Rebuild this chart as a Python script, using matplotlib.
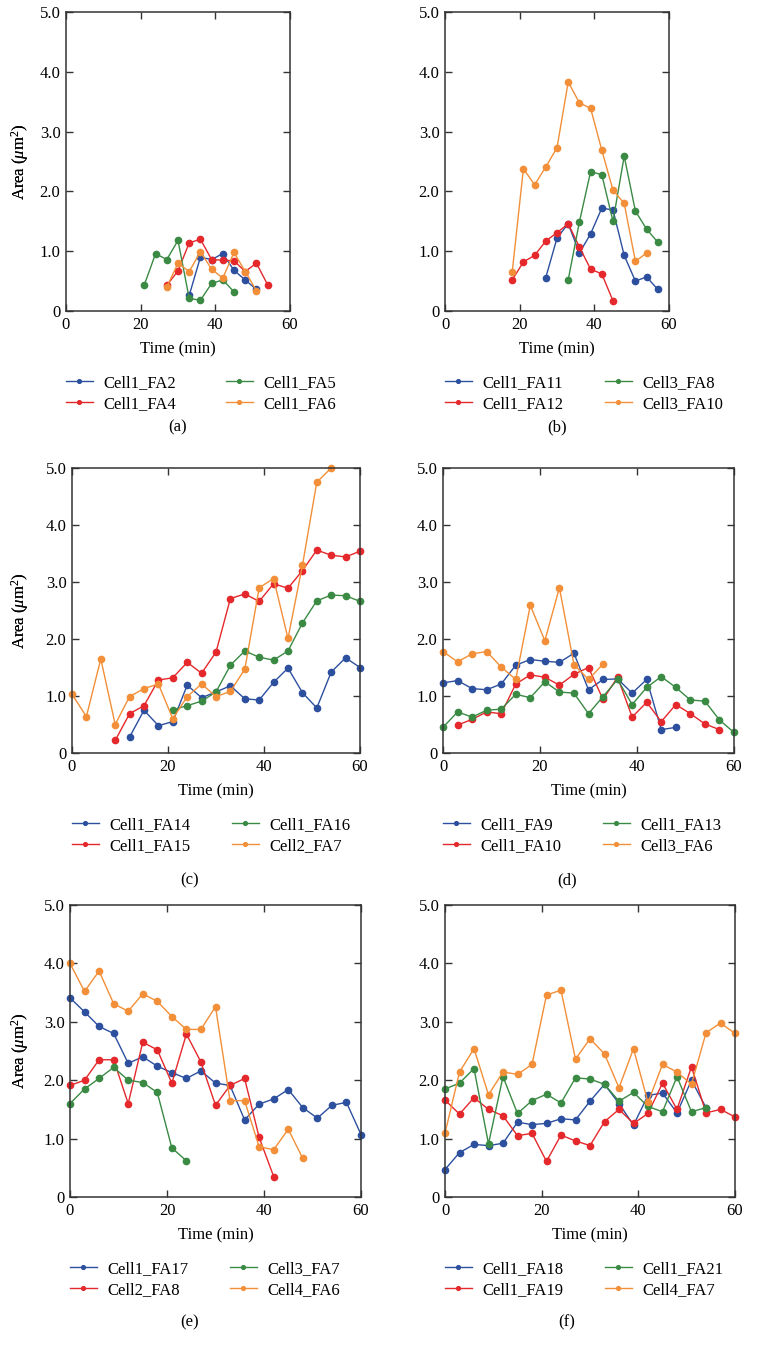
import matplotlib
matplotlib.use("Agg")
import matplotlib.pyplot as plt

plt.rcParams["font.family"] = ["Liberation Serif", "DejaVu Serif"]
plt.rcParams["mathtext.fontset"] = "custom"
plt.rcParams["mathtext.rm"] = "Liberation Serif"
plt.rcParams["mathtext.it"] = "Liberation Serif:italic"

# ======================
# Data (time in min, area in um^2)
# ======================
T = [0, 3, 6, 9, 12, 15, 18, 21, 24, 27, 30, 33, 36, 39, 42, 45, 48, 51, 54, 57, 60]

# (a)
a_names = ["Cell1_FA2", "Cell1_FA4", "Cell1_FA5", "Cell1_FA6"]
a_fa2 = [0.26, 0.90, 0.86, 0.96, 0.68, 0.52, 0.36]
a_fa4 = [0.43, 0.67, 1.14, 1.20, 0.86, 0.85, 0.84, 0.66, 0.80, 0.44]
a_fa5 = [0.44, 0.96, 0.86, 1.18, 0.21, 0.18, 0.46, 0.52, 0.32]
a_fa6 = [0.40, 0.80, 0.66, 0.99, 0.70, 0.55, 0.98, 0.66, 0.34]

# (b)
b_names = ["Cell1_FA11", "Cell1_FA12", "Cell3_FA8", "Cell3_FA10"]
b_fa11 = [0.56, 1.22, 1.46, 0.97, 1.29, 1.72, 1.69, 0.93, 0.50, 0.57, 0.36]
b_fa12 = [0.52, 0.82, 0.93, 1.17, 1.31, 1.46, 1.07, 0.70, 0.62, 0.17]
b_c3fa8 = [0.52, 1.49, 2.33, 2.28, 1.50, 2.59, 1.67, 1.37, 1.15]
b_c3fa10 = [0.65, 2.38, 2.11, 2.41, 2.73, 3.83, 3.48, 3.39, 2.69, 2.02, 1.80, 0.83, 0.97]

# (c)
c_names = ["Cell1_FA14", "Cell1_FA15", "Cell1_FA16", "Cell2_FA7"]
c_fa14 = [0.28, 0.75, 0.48, 0.55, 1.19, 0.97, 1.07, 1.18, 0.95, 0.93, 1.24, 1.49,
          1.06, 0.79, 1.42, 1.67, 1.50]
c_fa15 = [0.22, 0.69, 0.83, 1.28, 1.32, 1.59, 1.40, 1.77, 2.71, 2.79, 2.66, 2.97,
          2.89, 3.20, 3.56, 3.47, 3.44, 3.54]
c_fa16 = [0.76, 0.83, 0.91, 1.07, 1.54, 1.79, 1.68, 1.63, 1.79, 2.28, 2.67, 2.77, 2.76, 2.66]
c_c2fa7 = [1.03, 0.64, 1.65, 0.50, 0.99, 1.13, 1.21, 0.60, 0.99, 1.21, 0.99, 1.08,
           1.47, 2.90, 3.06, 2.01, 3.29, 4.75, 5.00]

# (d)
d_names = ["Cell1_FA9", "Cell1_FA10", "Cell1_FA13", "Cell3_FA6"]
d_fa9 = [1.23, 1.27, 1.13, 1.11, 1.21, 1.54, 1.64, 1.61, 1.59, 1.75, 1.11, 1.29,
         1.30, 1.05, 1.29, 0.41, 0.45]
d_fa10 = [0.49, 0.59, 0.72, 0.69, 1.21, 1.37, 1.33, 1.19, 1.38, 1.50, 0.94, 1.33,
          0.63, 0.89, 0.55, 0.85, 0.69, 0.51, 0.41]
d_fa13 = [0.45, 0.72, 0.63, 0.75, 0.77, 1.03, 0.97, 1.25, 1.07, 1.05, 0.69, 0.99,
          1.29, 0.85, 1.15, 1.34, 1.15, 0.93, 0.91, 0.58, 0.36]
d_c3fa6 = [1.78, 1.60, 1.74, 1.78, 1.51, 1.29, 2.59, 1.97, 2.90, 1.55, 1.29, 1.56]

# (e)
e_names = ["Cell1_FA17", "Cell2_FA8", "Cell3_FA7", "Cell4_FA6"]
e_fa17 = [3.41, 3.17, 2.92, 2.80, 2.29, 2.40, 2.24, 2.13, 2.03, 2.16, 1.95, 1.91,
          1.32, 1.59, 1.68, 1.84, 1.53, 1.35, 1.57, 1.62, 1.07]
e_c2fa8 = [1.91, 2.00, 2.35, 2.35, 1.60, 2.65, 2.52, 1.95, 2.79, 2.31, 1.57, 1.91,
           2.03, 1.02, 0.35]
e_c3fa7 = [1.60, 1.85, 2.03, 2.22, 2.00, 1.96, 1.79, 0.84, 0.62]
e_c4fa6 = [4.00, 3.52, 3.87, 3.31, 3.18, 3.48, 3.35, 3.09, 2.87, 2.87, 3.26, 1.65,
           1.65, 0.86, 0.81, 1.16, 0.66]

# (f)
f_names = ["Cell1_FA18", "Cell1_FA19", "Cell1_FA21", "Cell4_FA7"]
f_fa18 = [0.47, 0.76, 0.90, 0.88, 0.92, 1.28, 1.24, 1.26, 1.34, 1.32, 1.64, 1.93,
          1.60, 1.23, 1.74, 1.78, 1.44, 2.00, 1.53]
f_fa19 = [1.66, 1.42, 1.70, 1.50, 1.39, 1.05, 1.09, 0.61, 1.06, 0.96, 0.88, 1.29,
          1.50, 1.26, 1.43, 1.95, 1.50, 2.23, 1.44, 1.50, 1.37]
f_fa21 = [1.85, 1.95, 2.20, 0.91, 2.06, 1.43, 1.65, 1.76, 1.61, 2.04, 2.02, 1.93,
          1.64, 1.79, 1.55, 1.46, 2.06, 1.46, 1.53]
f_c4fa7 = [1.09, 2.14, 2.54, 1.75, 2.14, 2.10, 2.27, 3.46, 3.54, 2.36, 2.71, 2.45,
           1.87, 2.54, 1.62, 2.27, 2.14, 1.93, 2.81, 2.98, 2.80]

BLUE, RED, GREEN, ORANGE = "#2c4f9e", "#e4282b", "#3a8a44", "#f28f38"
COLORS = [BLUE, RED, GREEN, ORANGE]

panels = [
    # names, [(times, values)], tag, box in px (left, right, top, bottom), tag x, tag y
    (a_names, [(T[11:18], a_fa2), (T[9:19], a_fa4), (T[7:16], a_fa5), (T[9:18], a_fa6)],
     "(a)", (66, 290, 12, 311), 178, 427),
    (b_names, [(T[9:20], b_fa11), (T[6:16], b_fa12), (T[11:20], b_c3fa8), (T[6:19], b_c3fa10)],
     "(b)", (445, 669, 12, 311), 557, 427),
    (c_names, [(T[4:21], c_fa14), (T[3:21], c_fa15), (T[7:21], c_fa16), (T[0:19], c_c2fa7)],
     "(c)", (72, 360, 468, 753), 190, 880),
    (d_names, [(T[0:17], d_fa9), (T[1:20], d_fa10), (T[0:21], d_fa13), (T[0:12], d_c3fa6)],
     "(d)", (443, 734, 468, 753), 567, 880),
    (e_names, [(T[0:21], e_fa17), (T[0:15], e_c2fa8), (T[0:9], e_c3fa7), (T[0:17], e_c4fa6)],
     "(e)", (70, 361, 905, 1197), 190, 1322),
    (f_names, [(T[0:19], f_fa18), (T[0:21], f_fa19), (T[0:19], f_fa21), (T[0:21], f_c4fa7)],
     "(f)", (445, 735, 905, 1197), 567, 1322),
]

# ======================
# Figure
# ======================
W, H = 757, 1354
fig = plt.figure(figsize=(W / 100, H / 100), dpi=100)
FS = 12

for names, series, tag, box, tag_x, tag_y in panels:
    l, r, top, bot = box
    ax = fig.add_axes([l / W, 1 - bot / H, (r - l) / W, (bot - top) / H])
    lines = []
    for name, (t, v), c in zip(names, series, COLORS):
        ln, = ax.plot(t, v, color=c, lw=1.0, marker="o", ms=4.5, clip_on=False, label=name)
        lines.append(ln)

    ax.set_xlim(0, 60)
    ax.set_ylim(0, 5)
    ax.set_xticks([0, 20, 40, 60])
    ax.set_yticks([0, 1, 2, 3, 4, 5])
    ax.set_yticklabels(["0", "1.0", "2.0", "3.0", "4.0", "5.0"])
    ax.tick_params(direction="in", top=True, right=True, length=5, width=1,
                   labelsize=FS, pad=4, color="#333333")
    for s in ax.spines.values():
        s.set_color("#333333")
        s.set_linewidth(1.1)

    ax.set_xlabel("Time (min)", fontsize=FS, va="top")
    ax.xaxis.set_label_coords(0.5, -30 / (bot - top))
    ax.set_ylabel(r"Area ($\mu$m$^2$)", fontsize=FS)
    ax.yaxis.set_label_coords((31 - l) / (r - l), 0.5)

    leg_y = 1 - (bot + 64) / H
    kw = dict(loc="upper left", bbox_transform=fig.transFigure, frameon=False,
              fontsize=FS, borderpad=0, borderaxespad=0, handlelength=1.6,
              handletextpad=0.65, labelspacing=0.3, markerscale=0.6)
    leg1 = ax.legend(lines[:2], names[:2], bbox_to_anchor=(l / W, leg_y), **kw)
    ax.add_artist(leg1)
    ax.legend(lines[2:], names[2:], bbox_to_anchor=((l + 160) / W, leg_y), **kw)

    fig.text(tag_x / W, 1 - tag_y / H, tag, ha="center", va="center", fontsize=FS)

fig.savefig("out.png", dpi=100)
